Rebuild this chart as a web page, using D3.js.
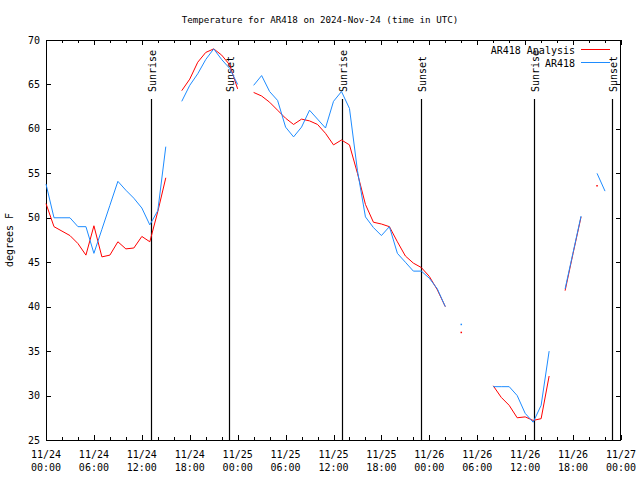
<!DOCTYPE html>
<html>
<head>
<meta charset="utf-8">
<script src="https://cdn.jsdelivr.net/npm/d3@7"></script>
<style>
  body { margin: 0; background: #fff; }
  svg { display: block; }
  text { font-family: "DejaVu Sans Mono", "Liberation Mono", monospace; font-size: 10px; fill: #000; }
</style>
</head>
<body>
<svg id="chart" width="640" height="480"></svg>
<script>
// ---- data (hours after 2024-11-24 00:00 UTC) ----
const hours = d3.range(0, 71);
const analysisValues = [
  51.6, 49.0, 48.5, 48.0, 47.1, 45.8, 49.1, 45.6, 45.8, 47.3,
  46.5, 46.6, 47.9, 47.3, 50.7, 54.5, null, 64.3, 65.6, 67.5,
  68.6, 69.0, 68.3, 67.2, 64.5, null, 64.1, 63.7, 63.0, 62.1,
  61.2, 60.5, 61.1, 60.9, 60.5, 59.5, 58.2, 58.75, 58.2, 55.0,
  51.5, 49.5, 49.3, 49.0, 47.3, 45.7, 44.9, 44.4, 43.4, 41.9,
  40.0, null, 37.1, null, null, null, 31.1, 29.8, 28.9, 27.5,
  27.6, 27.2, 27.4, 32.2, null, 41.8, 46.0, 50.1, null, 53.6,
  null
];
const observedValues = [
  53.8, 50.0, 50.0, 50.0, 49.0, 49.0, 46.0, 48.7, 51.4, 54.1,
  53.1, 52.2, 51.1, 49.2, 50.8, 58.0, null, 63.1, 64.9, 66.2,
  67.8, 69.0, 67.8, 66.8, 65.0, null, 64.9, 66.0, 64.2, 63.2,
  60.2, 59.1, 60.2, 62.1, 61.1, 60.1, 63.1, 64.2, 62.3, 55.3,
  50.1, 48.9, 48.0, 49.0, 46.0, 45.0, 44.0, 44.0, 43.2, 42.0,
  40.0, null, 38.0, null, null, null, 31.0, 31.0, 31.0, 30.0,
  28.0, 27.0, 28.9, 35.0, null, 42.0, 46.1, 50.2, null, 55.0,
  53.0
];
const sunriseHours = [13.1, 37.1, 61.15];
const sunsetHours = [22.95, 47.0, 70.9];
const yTicks = [25, 30, 35, 40, 45, 50, 55, 60, 65, 70];
const seriesNames = ["AR418 Analysis", "AR418"];
const seriesColors = ["#ff0000", "#1e8cff"];
const titleText = "Temperature for AR418 on 2024-Nov-24 (time in UTC)";
const yLabel = "degrees F";

// ---- setup ----
const base = Date.UTC(2024, 10, 24, 0, 0);
const toDate = h => new Date(base + h * 3600e3);
const svg = d3.select("#chart");
const L = 46, R = 621, T = 40, B = 440;

const x = d3.scaleUtc().domain([toDate(0), toDate(72)]).range([L, R]);
const y = d3.scaleLinear().domain([25, 70]).range([B, T]);

// title
svg.append("text").attr("x", 320).attr("y", 23).attr("text-anchor", "middle")
  .style("font-size", "9.2px").text(titleText);
// y label
svg.append("text").attr("transform", "translate(13,240) rotate(-90)").attr("text-anchor", "middle").text(yLabel);

// axes
const g = svg.append("g");
const majorX = d3.utcHour.every(6).range(toDate(0), toDate(72.01));
const minorX = d3.utcHour.every(2).range(toDate(0), toDate(72.01)).filter(d => d.getUTCHours() % 6 !== 0);
const fmtDate = d3.utcFormat("%m/%d"), fmtTime = d3.utcFormat("%H:%M");

const xb = g.append("g").attr("transform", `translate(0,${B})`)
  .call(d3.axisBottom(x).tickValues(majorX).tickSize(-5).tickSizeOuter(0).tickFormat(""));
const xbm = g.append("g").attr("transform", `translate(0,${B})`)
  .call(d3.axisBottom(x).tickValues(minorX).tickSize(-3).tickSizeOuter(0).tickFormat(""));
const xt = g.append("g").attr("transform", `translate(0,${T})`)
  .call(d3.axisTop(x).tickValues(majorX).tickSize(-5).tickSizeOuter(0).tickFormat(""));
const xtm = g.append("g").attr("transform", `translate(0,${T})`)
  .call(d3.axisTop(x).tickValues(minorX).tickSize(-3).tickSizeOuter(0).tickFormat(""));
const yl = g.append("g").attr("transform", `translate(${L},0)`)
  .call(d3.axisLeft(y).tickValues(yTicks).tickSize(-5).tickSizeOuter(0).tickFormat(""));
const yr = g.append("g").attr("transform", `translate(${R},0)`)
  .call(d3.axisRight(y).tickValues(yTicks).tickSize(-5).tickSizeOuter(0).tickFormat(""));
[xb, xbm, xt, xtm, yl, yr].forEach(a => {
  a.select(".domain").remove();
  a.selectAll("line").attr("stroke", "#000").attr("shape-rendering", "crispEdges");
});

// x tick labels (two lines)
const xlab = svg.append("g");
majorX.forEach(d => {
  const t = xlab.append("text").attr("x", x(d)).attr("text-anchor", "middle");
  t.append("tspan").attr("x", x(d)).attr("y", 458).text(fmtDate(d));
  t.append("tspan").attr("x", x(d)).attr("y", 471).text(fmtTime(d));
});
// y tick labels
yTicks.forEach(v => {
  svg.append("text").attr("x", 40).attr("y", y(v)).attr("dy", "0.35em").attr("text-anchor", "end").text(v);
});

// border
svg.append("rect").attr("x", L + 0.5).attr("y", T + 0.5).attr("width", R - L - 1).attr("height", B - T)
  .attr("fill", "none").attr("stroke", "#000").attr("shape-rendering", "crispEdges");

// sunrise / sunset lines
const sunEvents = sunriseHours.map(h => ({h, label: "Sunrise"}))
  .concat(sunsetHours.map(h => ({h, label: "Sunset"})));
sunEvents.forEach(e => {
  const px = Math.round(x(toDate(e.h))) + 0.5;
  svg.append("line").attr("x1", px).attr("x2", px).attr("y1", 99).attr("y2", B)
    .attr("stroke", "#000").attr("stroke-width", 1.2);
  svg.append("text").attr("transform", `translate(${px + 4},92) rotate(-90)`)
    .attr("text-anchor", "start").text(e.label);
});

// series
const allSeries = [analysisValues, observedValues];
allSeries.forEach((vals, i) => {
  const pts = hours.map((h, k) => ({t: toDate(h), v: vals[k]}));
  const line = d3.line().defined(d => d.v !== null).x(d => x(d.t)).y(d => y(d.v));
  svg.append("path").datum(pts).attr("d", line).attr("fill", "none")
    .attr("stroke", seriesColors[i]).attr("stroke-width", 1);
  // isolated points
  pts.forEach((d, k) => {
    if (d.v === null) return;
    const prev = k > 0 ? pts[k - 1].v : null;
    const next = k < pts.length - 1 ? pts[k + 1].v : null;
    if (prev === null && next === null) {
      svg.append("rect").attr("x", x(d.t) - 0.75).attr("y", y(d.v) - 0.75)
        .attr("width", 1.5).attr("height", 1.5).attr("fill", seriesColors[i]);
    }
  });
});

// legend
seriesNames.forEach((n, i) => {
  const ly = 50 + i * 13;
  svg.append("text").attr("x", 575).attr("y", ly).attr("dy", "0.35em").attr("text-anchor", "end").text(n);
  svg.append("line").attr("x1", 581).attr("x2", 610).attr("y1", ly - 0.5).attr("y2", ly - 0.5)
    .attr("stroke", seriesColors[i]).attr("stroke-width", 1);
});
</script>
</body>
</html>
